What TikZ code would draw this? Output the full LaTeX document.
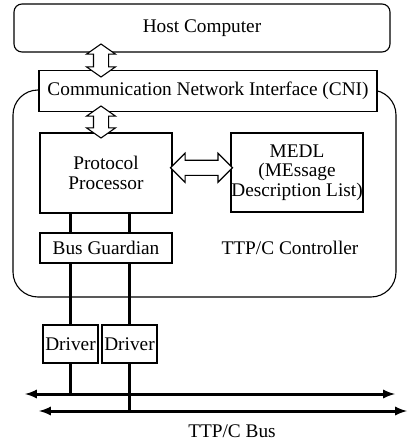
\documentclass[tikz,border=0pt]{standalone}
\usepackage{fontspec}
\setmainfont{Liberation Serif}
\usetikzlibrary{arrows,shapes,shapes.arrows,positioning,calc}

\tikzset{
  blk/.style={draw,fill=white,line width=1.1pt,inner sep=0pt,align=center},
  hollow/.style={draw,fill=white,line width=1.1pt,double arrow,inner sep=7pt,
                 double arrow head extend=7pt},
  wire/.style={line width=3pt},
  bus/.style={line width=3pt,<->}
}

\begin{document}
\begin{tikzpicture}[>=latex,x=1pt,y=-1pt,font=\fontsize{19.3}{19.5}\selectfont]
\useasboundingbox (0,0) rectangle (408,442);
% controller frame first, the CNI box sits on its top edge
\node[draw,line width=1.1pt,rounded corners=25pt,minimum width=383pt,minimum height=207pt]
      (ctrl) at (204.5,193.5) {};
\path
(202,28)    node[blk,rounded corners=8pt,minimum width=376pt,minimum height=48pt] (host) {Host Computer}
(208,91)    node[blk,minimum width=338pt,minimum height=41pt] (cni) {Communication Network Interface (CNI)}
(106,173)   node[blk,minimum width=132pt,minimum height=80pt] (pp) {Protocol\\Processor}
(297,172.5) node[blk,minimum width=132pt,minimum height=79pt] (medl) {MEDL\\(MEssage\\Description List)}
(106,248)   node[blk,minimum width=132pt,minimum height=30pt] (bg) {Bus Guardian}
(290,248)   node (lbl) {TTP/C Controller}
(70.5,344)  node[blk,minimum width=55pt,minimum height=38pt] (drv1) {Driver}
(129.5,344) node[blk,minimum width=55pt,minimum height=38pt] (drv2) {Driver}
(232,431)   node (buslbl) {TTP/C Bus};
% hollow double arrows
\node[hollow,double arrow tip angle=110,shape border rotate=90,minimum height=33pt] (hc) at (101,60.5) {};
\node[hollow,double arrow tip angle=110,shape border rotate=90,minimum height=32pt] (cp) at (101,122) {};
\node[hollow,minimum height=62pt] (pm) at ($(pp.east)!0.5!(medl.west)+(0,-5)$) {};
% bus lines
\coordinate (b1w) at (25,394);
\coordinate (b1e) at (395,394);
\coordinate (b2w) at (39,411);
\coordinate (b2e) at (407,411);
\draw[bus] (b1w)--(b1e);
\draw[bus] (b2w)--(b2e);
% channel wires
\draw[wire] (pp.south -| drv1.north)--(bg.north -| drv1.north);
\draw[wire] (pp.south -| drv2.north)--(bg.north -| drv2.north);
\draw[wire] (bg.south -| drv1.north)--(drv1.north);
\draw[wire] (bg.south -| drv2.north)--(drv2.north);
\draw[wire] (drv1.south)--(drv1.south |- b1w);
\draw[wire] (drv2.south)--(drv2.south |- b2w);
\end{tikzpicture}
\end{document}
